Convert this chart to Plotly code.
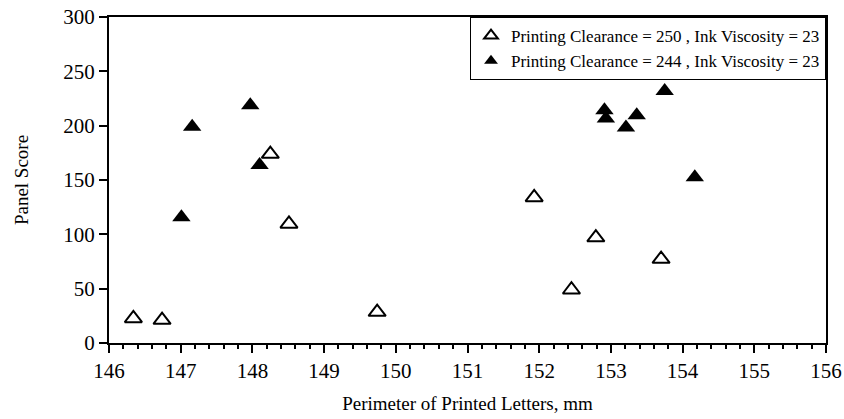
import plotly.graph_objects as go

open_x = [146.34, 146.74, 148.25, 148.51, 149.74, 151.93, 152.45, 152.79, 153.70]
open_y = [22.6, 21.1, 173.9, 109.6, 28.5, 134.0, 49.0, 97.0, 77.2]
filled_x = [147.01, 147.16, 147.97, 148.10, 152.91, 152.93, 153.21, 153.36, 153.75, 154.17]
filled_y = [115.7, 199.0, 218.9, 163.8, 214.3, 206.7, 198.4, 209.7, 232.0, 152.5]
name_open = "Printing Clearance = 250 , Ink Viscosity = 23"
name_filled = "Printing Clearance = 244 , Ink Viscosity = 23"
x_ticks = list(range(146, 157))
y_ticks = [0, 50, 100, 150, 200, 250, 300]

fig = go.Figure()
fig.add_trace(go.Scatter(x=open_x, y=open_y, mode="markers", name=name_open,
                         marker=dict(symbol="triangle-up-open", size=15, color="black",
                                     line=dict(width=2, color="black"))))
fig.add_trace(go.Scatter(x=filled_x, y=filled_y, mode="markers", name=name_filled,
                         marker=dict(symbol="triangle-up", size=16, color="black")))

axis_font = dict(family="Liberation Serif", size=21, color="black")
fig.update_layout(
    width=844, height=419,
    margin=dict(l=109, r=18, t=17, b=76),
    plot_bgcolor="white", paper_bgcolor="white",
    font=dict(family="Liberation Serif", color="black"),
    showlegend=True,
    legend=dict(x=1, y=1, xanchor="right", yanchor="top",
                bordercolor="black", borderwidth=1, bgcolor="white",
                font=dict(family="Liberation Serif", size=17, color="black"),
                tracegroupgap=0, itemsizing="constant"),
    xaxis=dict(range=[146, 156], tickvals=x_ticks, ticks="outside", ticklen=8, tickwidth=2,
               tickcolor="black", showline=True, linecolor="black", linewidth=2, mirror=True,
               showgrid=False, zeroline=False, tickfont=axis_font, automargin=False,
               minor=dict(dtick=0.2, ticks="outside", ticklen=4, tickwidth=1.5, tickcolor="black", showgrid=False),
               title=dict(text="Perimeter of Printed Letters, mm",
                          font=dict(family="Liberation Serif", size=19, color="black"), standoff=14)),
    yaxis=dict(range=[0, 300], tickvals=y_ticks, ticks="outside", ticklen=8, tickwidth=2,
               tickcolor="black", showline=True, linecolor="black", linewidth=2, mirror=True,
               showgrid=False, zeroline=False, tickfont=axis_font, automargin=False,
               title=dict(text="Panel Score",
                          font=dict(family="Liberation Serif", size=19, color="black"), standoff=30)),
)
fig.write_html("out.html")
